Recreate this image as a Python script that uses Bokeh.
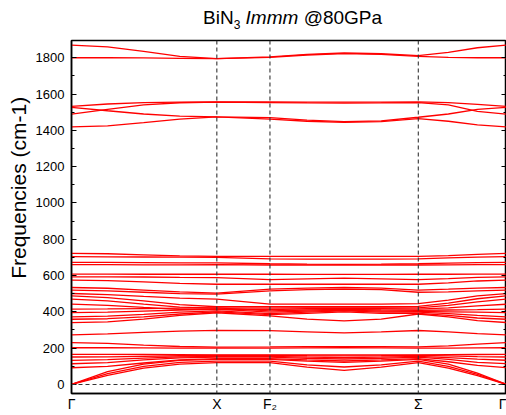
import numpy as np
from bokeh.plotting import figure
from bokeh.layouts import column
from bokeh.models import (Range1d, Span, LinearAxis, SingleIntervalTicker, Div,
                          FixedTicker, ColumnDataSource, CustomJSTickFormatter)
from bokeh.embed import file_html
from bokeh.resources import INLINE

# ---- data ----
kpoint_labels = ["Γ", "X", "F₂", "Σ", "Γ"]
kpoint_pos = [0, 145, 198, 346, 434]
kx = [0, 36, 72, 108, 145, 198, 235, 272, 309, 346, 376, 405, 434]

acoustic = [
    [0, 50, 90, 112, 120, 120, 95, 77, 95, 120, 90, 48, 0],
    [0, 60, 100, 122, 128, 128, 108, 96, 108, 128, 100, 55, 0],
    [0, 70, 112, 132, 138, 138, 128, 122, 128, 138, 112, 62, 0],
]
low_optical = [
    [92, 100, 118, 135, 142, 142, 135, 129, 135, 142, 125, 105, 92],
    [114, 120, 135, 146, 150, 150, 143, 140, 143, 150, 138, 122, 114],
    [133, 137, 145, 152, 155, 155, 150, 148, 150, 155, 148, 139, 133],
    [151, 152, 155, 158, 160, 160, 158, 157, 158, 160, 157, 153, 151],
    [166, 166, 165, 164, 163, 163, 163, 163, 163, 163, 164, 165, 166],
    [202, 202, 201, 200, 200, 200, 201, 202, 201, 200, 200, 201, 202],
    [230, 226, 216, 209, 206, 207, 208, 208, 208, 207, 212, 222, 230],
    [273, 278, 287, 294, 298, 296, 290, 284, 289, 297, 290, 280, 273],
]
mid_optical = [
    [722, 720, 714, 708, 705, 705, 705, 705, 705, 705, 710, 717, 722],
    [704, 703, 702, 701, 700, 692, 690, 690, 690, 692, 697, 701, 704],
    [672, 672, 671, 670, 670, 665, 663, 662, 663, 665, 668, 671, 672],
    [660, 660, 659, 659, 660, 658, 658, 658, 658, 658, 659, 660, 660],
    [608, 608, 607, 607, 607, 607, 606, 606, 606, 607, 607, 608, 608],
    [593, 593, 592, 590, 589, 577, 582, 586, 582, 577, 583, 590, 593],
    [575, 572, 565, 557, 552, 552, 552, 552, 552, 552, 560, 570, 575],
    [534, 530, 520, 510, 503, 525, 531, 534, 531, 520, 525, 531, 534],
    [520, 516, 508, 500, 497, 515, 522, 525, 522, 508, 510, 516, 520],
    [501, 495, 485, 476, 470, 442, 442, 442, 442, 445, 465, 488, 501],
    [488, 478, 460, 440, 428, 428, 428, 428, 428, 430, 448, 472, 488],
    [470, 460, 442, 426, 420, 420, 422, 422, 422, 422, 435, 455, 470],
    [442, 436, 424, 414, 412, 412, 417, 418, 417, 415, 422, 433, 442],
    [415, 416, 418, 420, 422, 405, 410, 414, 410, 408, 410, 412, 415],
    [396, 398, 404, 410, 415, 398, 404, 410, 404, 402, 400, 398, 396],
    [372, 376, 386, 398, 405, 390, 398, 405, 398, 398, 390, 380, 372],
    [359, 362, 372, 388, 400, 385, 392, 400, 392, 392, 380, 366, 359],
    [341, 345, 360, 380, 395, 378, 360, 350, 360, 388, 372, 352, 341],
]
n3_sym = [
    [1532, 1545, 1553, 1556, 1557, 1557, 1556, 1555, 1556, 1557, 1553, 1543, 1532],
    [1489, 1515, 1540, 1552, 1555, 1553, 1551, 1550, 1551, 1553, 1540, 1505, 1489],
    [1527, 1508, 1490, 1478, 1474, 1470, 1456, 1448, 1452, 1472, 1490, 1515, 1527],
    [1419, 1425, 1442, 1462, 1474, 1462, 1450, 1444, 1448, 1465, 1450, 1430, 1419],
]
n3_asym = [
    [1870, 1860, 1835, 1808, 1795, 1805, 1818, 1826, 1822, 1812, 1830, 1855, 1870],
    [1800, 1800, 1799, 1797, 1795, 1802, 1815, 1823, 1819, 1808, 1802, 1800, 1800],
]
y_limits = [-50, 1895]

bands = acoustic + low_optical + mid_optical + n3_sym + n3_asym

FONT = "Liberation Sans"

title = Div(
    text=('<div style="position:absolute; left:203px; top:8px; white-space:nowrap; '
          'font-family:\'Liberation Sans\'; font-size:19px; color:black; line-height:1;">'
          'BiN<sub style="font-size:12px;">3</sub> <i>Immm</i> @80GPa</div>'),
    width=506, height=30, margin=(0, 0, 0, 0))

p = figure(width=506, height=384, output_backend="svg", toolbar_location=None,
           x_range=Range1d(kpoint_pos[0], kpoint_pos[-1]),
           y_range=Range1d(*y_limits),
           min_border_left=71, min_border_right=0, min_border_top=10,
           min_border_bottom=21, min_border=0)
p.xgrid.visible = False
p.ygrid.visible = False
p.outline_line_color = "black"
p.outline_line_width = 1.5
p.background_fill_color = "white"
p.border_fill_color = "white"

src = ColumnDataSource(dict(xs=[kx] * len(bands), ys=bands))
p.multi_line("xs", "ys", source=src, line_color="#ff0000", line_width=1.3)

# dashed reference lines at the high-symmetry points and at zero
for pos in kpoint_pos[1:-1]:
    p.add_layout(Span(location=pos, dimension="height", line_color="#333333",
                      line_dash="4 3", line_width=1.1))
p.add_layout(Span(location=0, dimension="width", line_color="#333333",
                  line_dash="4 3", line_width=1.1))

# axes
xa = p.xaxis[0]
xa.ticker = FixedTicker(ticks=kpoint_pos)
xa.major_label_overrides = {float(k): lab for k, lab in zip(kpoint_pos, kpoint_labels)}
xa.major_tick_in = 0
xa.major_tick_out = 0
xa.minor_tick_in = 0
xa.minor_tick_out = 0
xa.axis_line_width = 1.5
xa.axis_line_color = "black"
xa.major_label_text_font = FONT
xa.major_label_text_font_size = "14px"
xa.major_label_text_color = "black"
xa.major_label_standoff = 2

ya = p.yaxis[0]
ya.ticker = SingleIntervalTicker(interval=200, num_minor_ticks=2)
ya.major_tick_in = 5
ya.major_tick_out = 0
ya.minor_tick_in = 3
ya.minor_tick_out = 0
ya.axis_line_width = 1.5
ya.axis_line_color = "black"
ya.major_label_text_font = FONT
ya.major_label_text_font_size = "13px"
ya.major_label_text_color = "black"
ya.major_label_standoff = 7
# non-breaking spaces at the start shift the visible label upward, as in the reference
ya.axis_label = "\u00a0" * 10 + "Frequencies (cm-1)"
ya.axis_label_text_font = FONT
ya.axis_label_text_font_size = "21px"
ya.axis_label_text_font_style = "normal"
ya.axis_label_text_color = "black"
ya.axis_label_standoff = 3

ra = LinearAxis(ticker=SingleIntervalTicker(interval=200, num_minor_ticks=2),
                formatter=CustomJSTickFormatter(code="return ''"))
ra.major_tick_in = 5
ra.major_tick_out = 0
ra.minor_tick_in = 3
ra.minor_tick_out = 0
ra.major_label_standoff = 0
ra.major_label_text_font_size = "0px"
ra.axis_line_width = 1.5
ra.axis_line_color = "black"
p.add_layout(ra, "right")

layout = column(title, p, spacing=0)
open("out.html", "w").write(file_html(layout, INLINE))
